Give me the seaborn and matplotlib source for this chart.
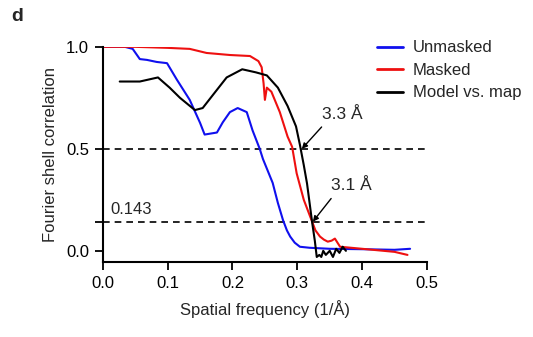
import numpy as np
import pandas as pd
import matplotlib
matplotlib.use("Agg")
import matplotlib.pyplot as plt
import seaborn as sns

# FSC curves
unmasked_x = [0.0, 0.034, 0.046, 0.057, 0.068, 0.083, 0.099, 0.114, 0.134, 0.150, 0.157, 0.176,
              0.185, 0.196, 0.208, 0.222, 0.231, 0.242, 0.247, 0.262, 0.270, 0.278, 0.284, 0.289,
              0.296, 0.304, 0.319, 0.35, 0.40, 0.45, 0.474]
unmasked_y = [1.0, 1.0, 0.99, 0.94, 0.936, 0.926, 0.92, 0.84, 0.74, 0.627, 0.57, 0.58,
              0.63, 0.68, 0.70, 0.68, 0.59, 0.50, 0.45, 0.333, 0.235, 0.15, 0.10, 0.07,
              0.04, 0.02, 0.015, 0.01, 0.008, 0.005, 0.01]

masked_x = [0.0, 0.05, 0.10, 0.134, 0.16, 0.196, 0.227, 0.240, 0.245, 0.248, 0.250, 0.253,
            0.260, 0.273, 0.285, 0.292, 0.299, 0.310, 0.322, 0.328, 0.335, 0.341, 0.347,
            0.353, 0.358, 0.366, 0.40, 0.45, 0.47]
masked_y = [1.0, 1.0, 0.995, 0.99, 0.97, 0.96, 0.955, 0.93, 0.90, 0.82, 0.74, 0.80,
            0.78, 0.68, 0.56, 0.51, 0.38, 0.25, 0.15, 0.10, 0.07, 0.055, 0.045,
            0.05, 0.06, 0.02, 0.01, -0.005, -0.02]

model_x = [0.026, 0.057, 0.085, 0.103, 0.119, 0.142, 0.154, 0.170, 0.191, 0.215, 0.236,
           0.253, 0.27, 0.285, 0.298, 0.304, 0.310, 0.315, 0.323, 0.327, 0.330, 0.334, 0.337,
           0.340, 0.344, 0.350, 0.355, 0.36, 0.365, 0.37, 0.375]
model_y = [0.83, 0.83, 0.85, 0.80, 0.75, 0.69, 0.70, 0.765, 0.85, 0.89, 0.875,
           0.86, 0.80, 0.71, 0.61, 0.52, 0.42, 0.33, 0.137, 0.05, -0.03, -0.02, -0.03,
           0.0, -0.02, 0.0, -0.03, 0.01, -0.01, 0.02, 0.0]

series_names = ["Unmasked", "Masked", "Model vs. map"]
series_colors = ["#1010ee", "#ee1010", "black"]
thresholds = [0.5, 0.143]

x_ticks = [0.0, 0.1, 0.2, 0.3, 0.4, 0.5]
y_ticks = [0.0, 0.143, 0.5, 1.0]
y_tick_labels = ["0.0", "", "0.5", "1.0"]

sns.set_style("ticks")
plt.rcParams['font.family'] = ['Liberation Sans', 'DejaVu Sans']

df = pd.concat([
    pd.DataFrame({"x": unmasked_x, "y": unmasked_y, "series": series_names[0]}),
    pd.DataFrame({"x": masked_x, "y": masked_y, "series": series_names[1]}),
    pd.DataFrame({"x": model_x, "y": model_y, "series": series_names[2]}),
])

fig = plt.figure(figsize=(5.33, 3.37), dpi=100)
ax = fig.add_axes([0.193, 0.223, 0.608, 0.638])

for t in thresholds:
    ax.plot([0, 0.5], [t, t], color="black", lw=1.2, dashes=(4, 3))

sns.lineplot(data=df, x="x", y="y", hue="series", palette=dict(zip(series_names, series_colors)),
             sort=False, estimator=None, lw=1.5, ax=ax)

ax.set_xlim(0, 0.5)
ax.set_ylim(-0.054, 1.0)
ax.set_xticks(x_ticks)
ax.set_xticklabels([f"{v:.1f}" for v in x_ticks])
ax.set_yticks(y_ticks)
ax.set_yticklabels(y_tick_labels)
ax.tick_params(axis="both", direction="out", length=6, width=1.3, labelsize=12, colors="black", pad=4)
for side in ["top", "right"]:
    ax.spines[side].set_visible(False)
for side in ["left", "bottom"]:
    ax.spines[side].set_linewidth(1.5)
    ax.spines[side].set_color("black")
ax.set_xlabel("Spatial frequency (1/Å)", fontsize=12, labelpad=7)
ax.set_ylabel("Fourier shell correlation", fontsize=12, labelpad=6)

ax.text(0.012, 0.205, "0.143", fontsize=12, va="center", ha="left")
ax.annotate("3.3 Å", xy=(0.307, 0.5), xytext=(0.370, 0.67), fontsize=12.5,
            ha="center", va="center",
            arrowprops=dict(arrowstyle="-|>", color="black", lw=1.0, mutation_scale=8,
                            relpos=(0.1, 0.0), shrinkA=2, shrinkB=0))
ax.annotate("3.1 Å", xy=(0.324, 0.143), xytext=(0.384, 0.32), fontsize=12.5,
            ha="center", va="center",
            arrowprops=dict(arrowstyle="-|>", color="black", lw=1.0, mutation_scale=8,
                            relpos=(0.1, 0.0), shrinkA=2, shrinkB=0))

leg = ax.legend(loc="upper left", bbox_to_anchor=(0.707, 0.880), bbox_transform=fig.transFigure,
                frameon=False, fontsize=12, handlelength=1.6, handletextpad=0.55,
                labelspacing=0.45, borderpad=0, borderaxespad=0)
for line in leg.get_lines():
    line.set_linewidth(2)

fig.text(0.022, 0.952, "d", fontsize=14, fontweight="bold", ha="left", va="center")

fig.savefig("out.png", dpi=100)
